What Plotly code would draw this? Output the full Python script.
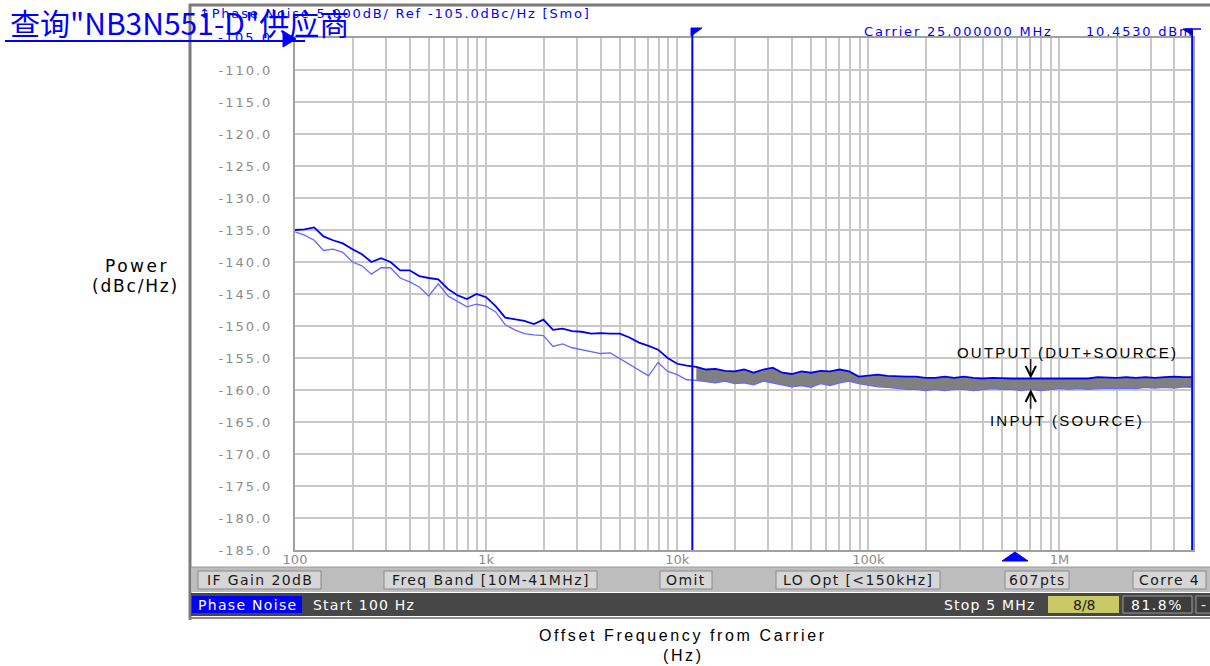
import math
import plotly.graph_objects as go

# ---------------- data ----------------
freq_hz = [100, 112, 126, 141, 158, 178, 200, 224, 251, 282, 316, 355, 398, 447, 501, 562, 631, 708, 794, 891,
           1000, 1122, 1259, 1413, 1585, 1778, 1995, 2239, 2512, 2818, 3162, 3548, 3981, 4467, 5012, 5623, 6310, 7079, 7943, 8913,
           10000, 11220, 12589, 14125, 15849, 17783, 19953, 22387, 25119, 28184, 31623, 35481, 39811, 44668, 50119, 56234, 63096, 70795, 79433, 89125,
           100000, 112202, 125893, 141254, 158489, 177828, 199526, 223872, 251189, 281838, 316228, 354813, 398107, 446684, 501187, 562341, 630957, 707946, 794328, 891251,
           1000000, 1122018, 1258925, 1412538, 1584893, 1778279, 1995262, 2238721, 2511886, 2818383, 3162278, 3548134, 3981072, 4466836, 5000000]

output_dbc = [-135.0, -134.9, -134.6, -136.0, -136.6, -137.1, -138.0, -138.8, -140.0, -139.4, -140.0, -141.3, -141.3, -142.2, -142.5, -142.7, -144.2, -145.2, -145.8, -145.0,
              -145.5, -146.9, -148.7, -149.0, -149.2, -149.7, -149.0, -150.6, -150.4, -150.8, -150.9, -151.2, -151.1, -151.2, -151.2, -151.8, -152.6, -153.1, -153.7, -155.0,
              -155.9, -156.2, -156.4, -156.8, -156.7, -157.0, -157.1, -156.8, -157.3, -156.8, -156.5, -157.3, -157.5, -157.1, -157.3, -157.0, -157.1, -156.8, -157.1, -157.9,
              -157.8, -157.6, -157.8, -157.9, -157.9, -157.9, -158.1, -158.1, -157.9, -158.1, -157.9, -158.1, -158.2, -158.1, -158.2, -158.2, -158.2, -158.2, -158.1, -158.2,
              -158.1, -158.2, -158.1, -158.2, -158.0, -158.1, -158.1, -158.0, -158.1, -158.0, -158.1, -158.0, -157.9, -158.0, -158.0]

input_dbc = [-135.3, -135.8, -136.6, -138.2, -138.0, -138.5, -140.0, -140.6, -141.9, -140.9, -140.9, -142.5, -143.1, -143.9, -145.3, -143.4, -145.3, -146.2, -147.0, -146.6,
             -146.9, -147.8, -149.8, -150.6, -151.2, -151.4, -151.5, -153.2, -152.8, -153.4, -153.7, -154.0, -154.3, -154.2, -155.1, -155.9, -156.8, -157.8, -155.7, -157.1,
             -157.6, -158.4, -158.5, -158.7, -158.9, -158.6, -159.0, -158.9, -159.2, -158.6, -158.9, -159.3, -159.5, -159.3, -159.6, -159.0, -159.3, -158.9, -158.6, -159.0,
             -159.3, -159.5, -159.6, -159.8, -159.9, -159.9, -160.1, -159.9, -160.1, -159.9, -159.9, -160.1, -159.9, -159.8, -159.9, -159.9, -160.1, -159.9, -160.1, -159.9,
             -159.8, -159.9, -159.8, -159.9, -159.8, -159.7, -159.8, -159.7, -159.8, -159.6, -159.7, -159.6, -159.7, -159.5, -159.6]

x_tick_vals = [100, 1000, 10000, 100000, 1000000]
x_tick_text = ["100", "1k", "10k", "100k", "1M"]
y_tick_vals = [-185, -180, -175, -170, -165, -160, -155, -150, -145, -140, -135, -130, -125, -120, -115, -110, -105]

marker1_hz = 12000
marker2_hz = 4950000
fill_start_hz = 12000
arrow_hz = 707946
label_hz = 1100000
output_label_db = -154.1
input_label_db = -164.8
ref_level = -105.0

# ---------------- layout helpers ----------------
W, H = 1210, 666
def px(x):
    return x / W
def py(y):
    return 1 - y / H

PL, PR, PT, PB = 295, 1193, 38, 550
BLUE = "#0000ff"
GRID = "#c8c8c8"

fill_idx = [i for i, f in enumerate(freq_hz) if f >= fill_start_hz]

fig = go.Figure()
fig.add_trace(go.Scatter(x=[freq_hz[i] for i in fill_idx], y=[input_dbc[i] for i in fill_idx],
                         mode="lines", line=dict(width=0, color="#808080"), hoverinfo="skip"))
fig.add_trace(go.Scatter(x=[freq_hz[i] for i in fill_idx], y=[output_dbc[i] for i in fill_idx],
                         mode="lines", line=dict(width=0, color="#808080"), fill="tonexty",
                         fillcolor="#808080", hoverinfo="skip"))
fig.add_trace(go.Scatter(x=freq_hz, y=input_dbc, mode="lines", name="INPUT (SOURCE)",
                         line=dict(color="#6868ff", width=1.3)))
fig.add_trace(go.Scatter(x=freq_hz, y=output_dbc, mode="lines", name="OUTPUT (DUT+SOURCE)",
                         line=dict(color="#0000f0", width=1.8)))

# grid tick positions (1..9 per decade)
grid_vals = []
grid_text = []
for d in range(2, 7):
    for k in range(1, 10):
        v = k * 10 ** d
        if v <= 5000000:
            grid_vals.append(v)
            grid_text.append(x_tick_text[x_tick_vals.index(v)] if v in x_tick_vals else "")

def spaced(t, ls):
    return f'<span style="letter-spacing:{ls}px">{t}</span>' if ls else t

y_text = ["" if v == ref_level else spaced(f"{v:.1f}", 2) for v in y_tick_vals]

shapes = []
# outer instrument frame
shapes.append(dict(type="line", xref="paper", yref="paper", x0=px(190), x1=px(190), y0=py(4), y1=py(620),
                   line=dict(color="#7a7a7a", width=3)))
shapes.append(dict(type="line", xref="paper", yref="paper", x0=px(189), x1=px(1210), y0=py(5), y1=py(5),
                   line=dict(color="#7a7a7a", width=3)))
# button bar
shapes.append(dict(type="rect", xref="paper", yref="paper", x0=px(191), x1=px(1210), y0=py(567), y1=py(592),
                   fillcolor="#bdbdbd", line=dict(width=0)))
shapes.append(dict(type="line", xref="paper", yref="paper", x0=px(191), x1=px(1210), y0=py(567), y1=py(567),
                   line=dict(color="#9a9a9a", width=1)))
buttons = [(198, 321, "IF Gain 20dB"), (384, 597, "Freq Band [10M-41MHz]"), (660, 712, "Omit"),
           (776, 940, "LO Opt [<150kHz]"), (1005, 1069, "607pts"), (1133, 1206, "Corre 4")]
for x0, x1, t in buttons:
    shapes.append(dict(type="rect", xref="paper", yref="paper", x0=px(x0), x1=px(x1), y0=py(571), y1=py(589),
                       fillcolor="#d6d6d6", line=dict(color="#8a8a8a", width=1)))
# status bar
shapes.append(dict(type="rect", xref="paper", yref="paper", x0=px(191), x1=px(1210), y0=py(593), y1=py(616),
                   fillcolor="#474747", line=dict(width=0)))
shapes.append(dict(type="line", xref="paper", yref="paper", x0=px(189), x1=px(1210), y0=py(618), y1=py(618),
                   line=dict(color="#8a8a8a", width=2)))
shapes.append(dict(type="rect", xref="paper", yref="paper", x0=px(192), x1=px(302), y0=py(596), y1=py(613),
                   fillcolor="#0000ff", line=dict(width=0)))
shapes.append(dict(type="rect", xref="paper", yref="paper", x0=px(1048), x1=px(1119), y0=py(596), y1=py(613),
                   fillcolor="#c8c864", line=dict(width=0)))
shapes.append(dict(type="rect", xref="paper", yref="paper", x0=px(1123), x1=px(1192), y0=py(596), y1=py(613),
                   fillcolor="#3c3c3c", line=dict(color="#9a9a9a", width=1)))
shapes.append(dict(type="rect", xref="paper", yref="paper", x0=px(1196), x1=px(1212), y0=py(596), y1=py(613),
                   fillcolor="#3c3c3c", line=dict(color="#9a9a9a", width=1)))
# marker lines
shapes.append(dict(type="line", xref="x", yref="paper", x0=marker1_hz, x1=marker1_hz, y0=py(PB), y1=py(29),
                   line=dict(color=BLUE, width=2)))
shapes.append(dict(type="line", xref="x", yref="paper", x0=marker2_hz, x1=marker2_hz, y0=py(PB), y1=py(29),
                   line=dict(color=BLUE, width=2)))
shapes.append(dict(type="path", xref="paper", yref="paper",
                   path=f"M {px(691)} {py(28)} L {px(702)} {py(28)} L {px(691)} {py(36)} Z",
                   fillcolor=BLUE, line=dict(color=BLUE, width=1)))
shapes.append(dict(type="path", xref="paper", yref="paper",
                   path=f"M {px(1192)} {py(29)} L {px(1183)} {py(29)} L {px(1192)} {py(35)} Z",
                   fillcolor="#00008a", line=dict(color="#00008a", width=1)))
shapes.append(dict(type="line", xref="paper", yref="paper", x0=px(1185), x1=px(1201), y0=py(29), y1=py(29),
                   line=dict(color=BLUE, width=1.5)))
# ref level triangle
shapes.append(dict(type="path", xref="paper", yref="paper",
                   path=f"M {px(283)} {py(31)} L {px(296)} {py(39)} L {px(283)} {py(47)} Z",
                   fillcolor=BLUE, line=dict(color=BLUE, width=1)))
# bottom marker triangle
shapes.append(dict(type="path", xref="paper", yref="paper",
                   path=f"M {px(1002)} {py(561)} L {px(1015)} {py(552)} L {px(1028)} {py(561)} Z",
                   fillcolor=BLUE, line=dict(color=BLUE, width=1)))
# watermark underline
shapes.append(dict(type="line", xref="paper", yref="paper", x0=px(5), x1=px(305), y0=py(41), y1=py(41),
                   line=dict(color=BLUE, width=2)))

ann = []
def text(x, y, t, size=14, color="#000000", family="DejaVu Sans", xanchor="left", yanchor="middle", ls=0):
    ann.append(dict(xref="paper", yref="paper", x=px(x), y=py(y), text=spaced(t, ls), showarrow=False,
                    font=dict(size=size, color=color, family=family), xanchor=xanchor, yanchor=yanchor))

for x0, x1, t in buttons:
    text((x0 + x1) / 2, 580, t, size=14, color="#1a1a1a", xanchor="center", ls=1.4)
text(247, 605, "Phase Noise", size=14, color="#ffffff", xanchor="center", ls=1.3)
text(311, 605, "Start 100 Hz", size=14, color="#ffffff", ls=1.2)
text(1038, 605, "Stop 5 MHz", size=14, color="#ffffff", xanchor="right", ls=1.2)
text(1084, 605, "8/8", size=14, color="#1a1a1a", xanchor="center")
text(1157, 605, "81.8%", size=14, color="#ffffff", xanchor="center", ls=1.5)
text(1203, 605, "-", size=14, color="#ffffff", xanchor="center")

text(197, 14, "↕Phase Noise 5.000dB/ Ref -105.0dBc/Hz [Smo]", size=13, color=BLUE, ls=1.8)
text(862, 31, "Carrier 25.000000 MHz", size=13, color=BLUE, ls=1.8)
text(1084, 31, "10.4530 dBm", size=13, color=BLUE, ls=1.8)
text(274, 37, "-105.0", size=13, color=BLUE, xanchor="right", ls=2)

text(137, 266, "Power", size=17, family="DejaVu Sans", xanchor="center", ls=2.5)
text(135, 286, "(dBc/Hz)", size=17, family="DejaVu Sans", xanchor="center", ls=1.8)
text(683, 635, "Offset Frequency from Carrier", size=16, family="Liberation Sans", xanchor="center", ls=2.6)
text(683, 655, "(Hz)", size=16, family="Liberation Sans", xanchor="center", ls=2.6)

ann.append(dict(xref="x", yref="y", x=math.log10(label_hz), y=output_label_db, text=spaced("OUTPUT (DUT+SOURCE)", 2.2), showarrow=False,
                font=dict(size=15, color="#000000", family="Liberation Sans"), xanchor="center", yanchor="middle"))
ann.append(dict(xref="x", yref="y", x=math.log10(label_hz), y=input_label_db, text=spaced("INPUT (SOURCE)", 2.2), showarrow=False,
                font=dict(size=15, color="#000000", family="Liberation Sans"), xanchor="center", yanchor="middle"))
ann.append(dict(xref="x", yref="y", x=math.log10(arrow_hz), y=output_dbc[freq_hz.index(arrow_hz)], text="",
                showarrow=True, ax=0, ay=-21, arrowhead=5, arrowsize=1.7, arrowwidth=1.2, arrowcolor="#000000"))
ann.append(dict(xref="x", yref="y", x=math.log10(arrow_hz), y=input_dbc[freq_hz.index(arrow_hz)], text="",
                showarrow=True, ax=0, ay=21, arrowhead=5, arrowsize=1.7, arrowwidth=1.2, arrowcolor="#000000"))

text(8, 22, "查询\"NB3N551-D\"供应商", size=30, color=BLUE, family="Noto Sans CJK SC")

fig.update_layout(
    width=W, height=H, autosize=False,
    margin=dict(l=0, r=0, t=0, b=0),
    paper_bgcolor="white", plot_bgcolor="white",
    showlegend=False, template="none",
    shapes=shapes, annotations=ann,
    xaxis=dict(type="log", range=[2, 6.69897], domain=[px(PL), px(PR)],
               tickmode="array", tickvals=grid_vals, ticktext=grid_text,
               showgrid=True, gridcolor=GRID, gridwidth=1.5,
               showline=True, linecolor="#a0a0a0", linewidth=2, mirror=True,
               ticks="", zeroline=False, automargin=False, ticklabelstandoff=-4,
               tickfont=dict(size=13, color="#8c8c8c", family="DejaVu Sans")),
    yaxis=dict(range=[-185, -105], domain=[py(PB), py(PT)],
               tickmode="array", tickvals=y_tick_vals, ticktext=y_text,
               showgrid=True, gridcolor=GRID, gridwidth=1.5,
               showline=True, linecolor="#a0a0a0", linewidth=2, mirror=True,
               ticks="outside", ticklen=18, tickcolor="rgba(0,0,0,0)",
               zeroline=False, automargin=False,
               tickfont=dict(size=13, color="#8c8c8c", family="DejaVu Sans")),
)

fig.write_html("out.html", config={"displayModeBar": False},
               post_script="document.body.style.margin='0';document.body.style.overflow='hidden';")
